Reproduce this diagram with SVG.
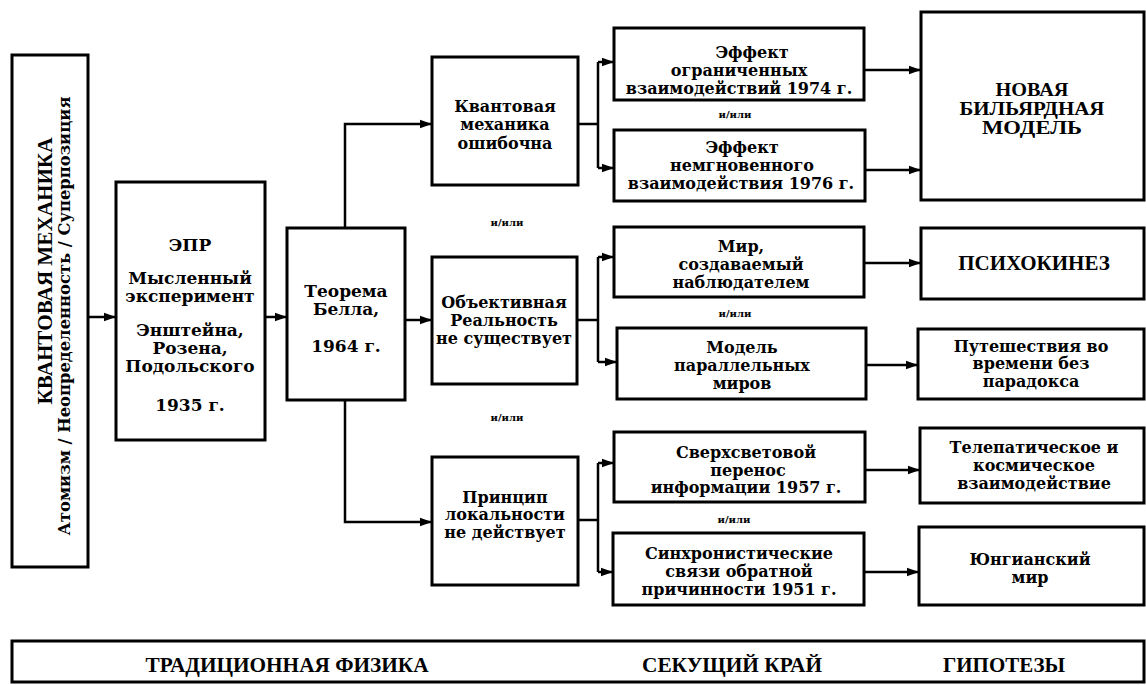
<svg xmlns="http://www.w3.org/2000/svg" width="1146" height="685" viewBox="0 0 1146 685">
<defs>
<marker id="ah" markerUnits="userSpaceOnUse" markerWidth="13" markerHeight="10" refX="12" refY="5" orient="auto">
<path d="M0,0.8 L12,5 L0,9.2 Z" fill="#000"/>
</marker>
<style>
.box{fill:#fff;stroke:#000;stroke-width:3}
.t{font-family:"DejaVu Serif","Liberation Serif",serif;font-weight:bold;font-size:16px;text-anchor:middle;fill:#000}
.e{font-size:17px}
.cap{font-family:"Liberation Serif","DejaVu Serif",serif;font-size:21px}
.bm{font-size:18px}
.or{font-size:10px}
.c{fill:none;stroke:#000;stroke-width:2.5}
.a{marker-end:url(#ah)}
</style>
</defs>
<rect width="1146" height="685" fill="#fff"/>

<g id="connectors">
<path class="c a" d="M88,317 H116"/>
<path class="c a" d="M265,317 H287"/>
<path class="c a" d="M345,228 V124 H432"/>
<path class="c a" d="M406,320 H432"/>
<path class="c a" d="M345,400 V522 H432"/>
<path class="c" d="M578,124 H598 M598,62 V168"/>
<path class="c a" d="M598,62 H614"/>
<path class="c a" d="M598,168 H614"/>
<path class="c" d="M577,320 H598 M598,257 V362"/>
<path class="c a" d="M598,257 H614"/>
<path class="c a" d="M598,362 H617"/>
<path class="c" d="M578,520 H598 M598,463 V572"/>
<path class="c a" d="M598,463 H614"/>
<path class="c a" d="M598,572 H613"/>
<path class="c a" d="M864,70 H921"/>
<path class="c a" d="M865,170 H921"/>
<path class="c a" d="M864,263 H921"/>
<path class="c a" d="M866,365 H918"/>
<path class="c a" d="M865,470 H920"/>
<path class="c a" d="M864,572 H919"/>
</g>

<g id="qm">
<rect class="box" x="12" y="55" width="76" height="512"/>
<text class="t cap" font-size="20" transform="translate(52,271) rotate(-90)" textLength="267" lengthAdjust="spacingAndGlyphs">КВАНТОВАЯ МЕХАНИКА</text>
<text class="t" font-family="Liberation Serif" font-size="17" transform="translate(70,316) rotate(-90)" textLength="439" lengthAdjust="spacingAndGlyphs">Атомизм / Неопределенность / Суперпозиция</text>
</g>

<g id="epr">
<rect class="box" x="116" y="182" width="149" height="258"/>
<text class="t e" x="190" y="251">ЭПР</text>
<text class="t e" x="190" y="284">Мысленный</text>
<text class="t e" x="190" y="302">эксперимент</text>
<text class="t e" x="190" y="336">Энштейна,</text>
<text class="t e" x="190" y="354">Розена,</text>
<text class="t e" x="190" y="372">Подольского</text>
<text class="t e" x="190" y="411">1935 г.</text>
</g>

<g id="bell">
<rect class="box" x="287" y="228" width="118" height="172"/>
<text class="t e" x="346" y="297">Теорема</text>
<text class="t e" x="346" y="315">Белла,</text>
<text class="t e" x="346" y="352">1964 г.</text>
</g>

<g id="qm-wrong">
<rect class="box" x="432" y="57" width="146" height="128"/>
<text class="t" x="505" y="112">Квантовая</text>
<text class="t" x="505" y="130">механика</text>
<text class="t" x="505" y="149">ошибочна</text>
</g>

<g id="no-reality">
<rect class="box" x="432" y="257" width="145" height="127"/>
<text class="t" x="504" y="308">Объективная</text>
<text class="t" x="504" y="326">Реальность</text>
<text class="t" x="504" y="344">не существует</text>
</g>

<g id="no-locality">
<rect class="box" x="432" y="457" width="146" height="128"/>
<text class="t" x="505" y="503">Принцип</text>
<text class="t" x="505" y="520">локальности</text>
<text class="t" x="505" y="538">не действует</text>
</g>

<g id="or-labels">
<text class="t or" x="507" y="226">и/или</text>
<text class="t or" x="507" y="421">и/или</text>
<text class="t or" x="735" y="118">и/или</text>
<text class="t or" x="735" y="317">и/или</text>
<text class="t or" x="734" y="523">и/или</text>
</g>

<g id="limited">
<rect class="box" x="614" y="28" width="250" height="72"/>
<text class="t" x="752" y="58">Эффект</text>
<text class="t" x="739" y="76">ограниченных</text>
<text class="t" x="739" y="94">взаимодействий 1974 г.</text>
</g>

<g id="noninstant">
<rect class="box" x="614" y="130" width="251" height="71"/>
<text class="t" x="742" y="153">Эффект</text>
<text class="t" x="742" y="171">немгновенного</text>
<text class="t" x="741" y="189">взаимодействия 1976 г.</text>
</g>

<g id="observer">
<rect class="box" x="614" y="227" width="250" height="70"/>
<text class="t" x="741" y="252">Мир,</text>
<text class="t" x="741" y="270">создаваемый</text>
<text class="t" x="741" y="288">наблюдателем</text>
</g>

<g id="parallel">
<rect class="box" x="617" y="328" width="249" height="71"/>
<text class="t" x="742" y="353">Модель</text>
<text class="t" x="742" y="371">параллельных</text>
<text class="t" x="742" y="389">миров</text>
</g>

<g id="ftl">
<rect class="box" x="614" y="432" width="251" height="70"/>
<text class="t" x="746" y="458">Сверхсветовой</text>
<text class="t" x="748" y="476">перенос</text>
<text class="t" x="746" y="493">информации 1957 г.</text>
</g>

<g id="synchron">
<rect class="box" x="613" y="533" width="251" height="72"/>
<text class="t" x="739" y="559">Синхронистические</text>
<text class="t" x="739" y="577">связи обратной</text>
<text class="t" x="739" y="595">причинности 1951 г.</text>
</g>

<g id="billiard">
<rect class="box" x="921" y="12" width="223" height="188"/>
<text class="t cap bm" x="1032" y="96" textLength="73" lengthAdjust="spacingAndGlyphs">НОВАЯ</text>
<text class="t cap bm" x="1032" y="115" textLength="145" lengthAdjust="spacingAndGlyphs">БИЛЬЯРДНАЯ</text>
<text class="t cap bm" x="1032" y="134" textLength="100" lengthAdjust="spacingAndGlyphs">МОДЕЛЬ</text>
</g>

<g id="psychokinesis">
<rect class="box" x="921" y="228" width="223" height="71"/>
<text class="t cap" x="1034" y="270">ПСИХОКИНЕЗ</text>
</g>

<g id="timetravel">
<rect class="box" x="918" y="329" width="226" height="70"/>
<text class="t" x="1031" y="352">Путешествия во</text>
<text class="t" x="1031" y="369">времени без</text>
<text class="t" x="1031" y="387">парадокса</text>
</g>

<g id="telepathy">
<rect class="box" x="920" y="428" width="224" height="75"/>
<text class="t" x="1034" y="453">Телепатическое и</text>
<text class="t" x="1034" y="471">космическое</text>
<text class="t" x="1034" y="489">взаимодействие</text>
</g>

<g id="jungian">
<rect class="box" x="919" y="527" width="225" height="78"/>
<text class="t" x="1030" y="565">Юнгианский</text>
<text class="t" x="1030" y="583">мир</text>
</g>

<g id="band">
<rect class="box" x="12" y="641" width="1132" height="41"/>
<text class="t cap" x="287" y="672" textLength="283" lengthAdjust="spacingAndGlyphs">ТРАДИЦИОННАЯ ФИЗИКА</text>
<text class="t cap" x="732" y="672" textLength="180" lengthAdjust="spacingAndGlyphs">СЕКУЩИЙ КРАЙ</text>
<text class="t cap" x="1004" y="672" textLength="122" lengthAdjust="spacingAndGlyphs">ГИПОТЕЗЫ</text>
</g>
</svg>
